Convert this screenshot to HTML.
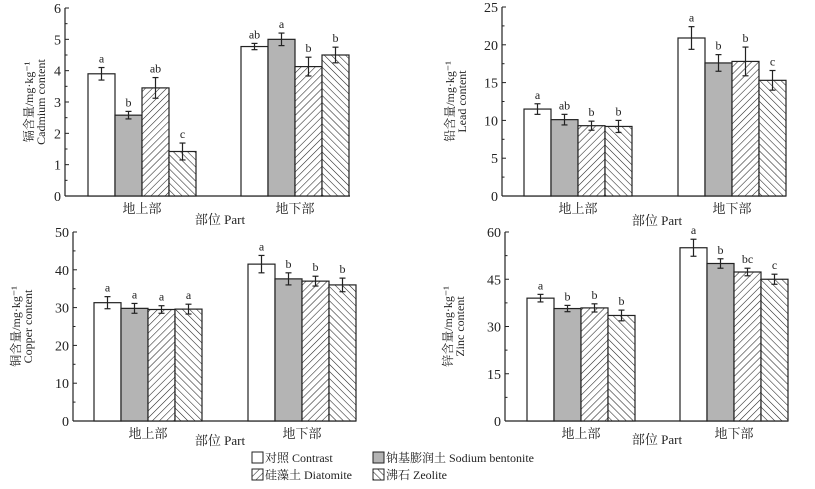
<!DOCTYPE html>
<html><head><meta charset="utf-8"><style>
html,body{margin:0;padding:0;background:#fff;width:815px;height:489px;overflow:hidden}
svg{display:block}
text{font-family:"Liberation Serif","Noto Serif CJK SC",serif;fill:#222}
</style></head><body>
<svg id="chart" width="815" height="489" viewBox="0 0 815 489" xmlns="http://www.w3.org/2000/svg">
<defs>
<pattern id="diag" patternUnits="userSpaceOnUse" width="5" height="5" patternTransform="rotate(45)"><rect width="5" height="5" fill="#fff"/><line x1="0" y1="0" x2="0" y2="5" stroke="#222" stroke-width="1.1"/></pattern>
<pattern id="back" patternUnits="userSpaceOnUse" width="5" height="5" patternTransform="rotate(-45)"><rect width="5" height="5" fill="#fff"/><line x1="0" y1="0" x2="0" y2="5" stroke="#222" stroke-width="1.1"/></pattern>
</defs>
<g id="panels"></g>
<g font-size="12">
<rect x="252" y="452" width="11" height="11" fill="#fff" stroke="#222"/><text x="265" y="462">对照 Contrast</text>
<rect x="373" y="452" width="11" height="11" fill="#b4b4b4" stroke="#222"/><text x="386" y="462">钠基膨润土 Sodium bentonite</text>
<rect x="252" y="469" width="11" height="11" fill="url(#diag)" stroke="#222"/><text x="265" y="479">硅藻土 Diatomite</text>
<rect x="373" y="469" width="11" height="11" fill="url(#back)" stroke="#222"/><text x="386" y="479">沸石 Zeolite</text>
</g>
</svg>
<script>
const categories=["地上部","地下部"];
const treatments=["Contrast","Sodium bentonite","Diatomite","Zeolite"];
const cdValues=[[3.9,2.58,3.45,1.42],[4.77,5.0,4.13,4.5]];
const cdErrors=[[0.2,0.12,0.33,0.27],[0.1,0.2,0.3,0.25]];
const cdLetters=[["a","b","ab","c"],["ab","a","b","b"]];
const cdTicks=[0,1,2,3,4,5,6];
const pbValues=[[11.5,10.1,9.3,9.2],[20.9,17.6,17.8,15.3]];
const pbErrors=[[0.7,0.7,0.6,0.8],[1.5,1.1,1.9,1.3]];
const pbLetters=[["a","ab","b","b"],["a","b","b","c"]];
const pbTicks=[0,5,10,15,20,25];
const cuValues=[[31.3,29.8,29.5,29.6],[41.5,37.6,37.0,36.0]];
const cuErrors=[[1.6,1.3,1.0,1.3],[2.3,1.6,1.3,1.8]];
const cuLetters=[["a","a","a","a"],["a","b","b","b"]];
const cuTicks=[0,10,20,30,40,50];
const znValues=[[39,35.7,35.9,33.5],[55,50,47.3,45]];
const znErrors=[[1.2,1.0,1.3,1.7],[2.7,1.5,1.2,1.6]];
const znLetters=[["a","b","b","b"],["a","b","bc","c"]];
const znTicks=[0,15,30,45,60];
const fills=["#fff","#b4b4b4","url(#diag)","url(#back)"];
const NS="http://www.w3.org/2000/svg";
const root=document.getElementById("panels");
function mk(tag,attrs,parent){const e=document.createElementNS(NS,tag);for(const k in attrs)e.setAttribute(k,attrs[k]);parent.appendChild(e);return e;}
function panel(cfg){
  const g=mk("g",{},root);
  
  
  const max=cfg.ticks[cfg.ticks.length-1];
  const y=v=>cfg.y0-(v/max)*(cfg.y0-cfg.yTop);
  const bw=(cfg.g1[1]-cfg.g1[0])/4;
  // axes
  const ax=mk("line",{x1:cfg.ax,y1:cfg.y0,x2:cfg.axEnd,y2:cfg.y0,stroke:"#222","stroke-width":1.2},g);
  
  const ay=mk("line",{x1:cfg.ax,y1:cfg.y0,x2:cfg.ax,y2:cfg.yTop,stroke:"#222","stroke-width":1.2},g);
  
  cfg.ticks.forEach((t,i)=>{
    mk("line",{x1:cfg.ax,x2:cfg.ax+4,y1:y(t),y2:y(t),stroke:"#222"},g);
    if(i<cfg.ticks.length-1){const m=(t+cfg.ticks[i+1])/2;mk("line",{x1:cfg.ax,x2:cfg.ax+2.5,y1:y(m),y2:y(m),stroke:"#222"},g);}
    const tl=mk("text",{x:cfg.ax-4,y:y(t)+5,"text-anchor":"end","font-size":14},g);
    
    tl.textContent=t;
  });
  [cfg.g1,cfg.g2].forEach((gr,gi)=>{
    cfg.values[gi].forEach((v,bi)=>{
      const x=gr[0]+bi*bw;
      const r=mk("rect",{x:x,y:y(v),width:bw,height:cfg.y0-y(v),fill:fills[bi],stroke:"#222","stroke-width":1.2},g);
      
      
      const cx=x+bw/2,e=cfg.errors[gi][bi];
      mk("line",{x1:cx,x2:cx,y1:y(v+e),y2:y(v-e),stroke:"#222","stroke-width":1.2},g);
      mk("line",{x1:cx-3,x2:cx+3,y1:y(v+e),y2:y(v+e),stroke:"#222","stroke-width":1.2},g);
      mk("line",{x1:cx-3,x2:cx+3,y1:y(v-e),y2:y(v-e),stroke:"#222","stroke-width":1.2},g);
      const lt=mk("text",{x:cx,y:y(v+e)-5,"text-anchor":"middle","font-size":12},g);
      
      lt.textContent=cfg.letters[gi][bi];
    });
    const cl=mk("text",{x:(gr[0]+gr[1])/2,y:cfg.y0+17,"text-anchor":"middle","font-size":13},g);
    
    cl.textContent=categories[gi];
  });
  if(cfg.partY){
    const xt=mk("text",{x:cfg.partX,y:cfg.partY,"text-anchor":"middle","font-size":13},g);
    
    xt.textContent="部位 Part";
  }
  const cy=(cfg.y0+cfg.yTop)/2;
  const t1=mk("text",{x:0,y:0,"text-anchor":"middle","font-size":12,transform:`translate(${cfg.tx1},${cy}) rotate(-90)`},g);
  
  t1.textContent=cfg.title1;
  const t2=mk("text",{x:0,y:0,"text-anchor":"middle","font-size":12,transform:`translate(${cfg.tx1+12},${cy}) rotate(-90)`},g);
  
  t2.textContent=cfg.title2;
}
panel({name:"cadmium",ax:65,axEnd:350,y0:196,yTop:8,g1:[88,196],g2:[241,349],ticks:cdTicks,values:cdValues,errors:cdErrors,letters:cdLetters,title1:"镉含量/mg·kg⁻¹",title2:"Cadmium content",tx1:33,partX:220,partY:224});
panel({name:"lead",ax:502,axEnd:786,y0:196,yTop:7,g1:[524,632],g2:[678,786],ticks:pbTicks,values:pbValues,errors:pbErrors,letters:pbLetters,title1:"铅含量/mg·kg⁻¹",title2:"Lead content",tx1:454,partX:657,partY:225});
panel({name:"copper",ax:73,axEnd:356,y0:421,yTop:232,g1:[94,202],g2:[248,356],ticks:cuTicks,values:cuValues,errors:cuErrors,letters:cuLetters,title1:"铜含量/mg·kg⁻¹",title2:"Copper content",tx1:20,partX:220,partY:445});
panel({name:"zinc",ax:505,axEnd:788,y0:421,yTop:232,g1:[527,635],g2:[680,788],ticks:znTicks,values:znValues,errors:znErrors,letters:znLetters,title1:"锌含量/mg·kg⁻¹",title2:"Zinc content",tx1:452,partX:657,partY:444});
</script>
</body></html>
